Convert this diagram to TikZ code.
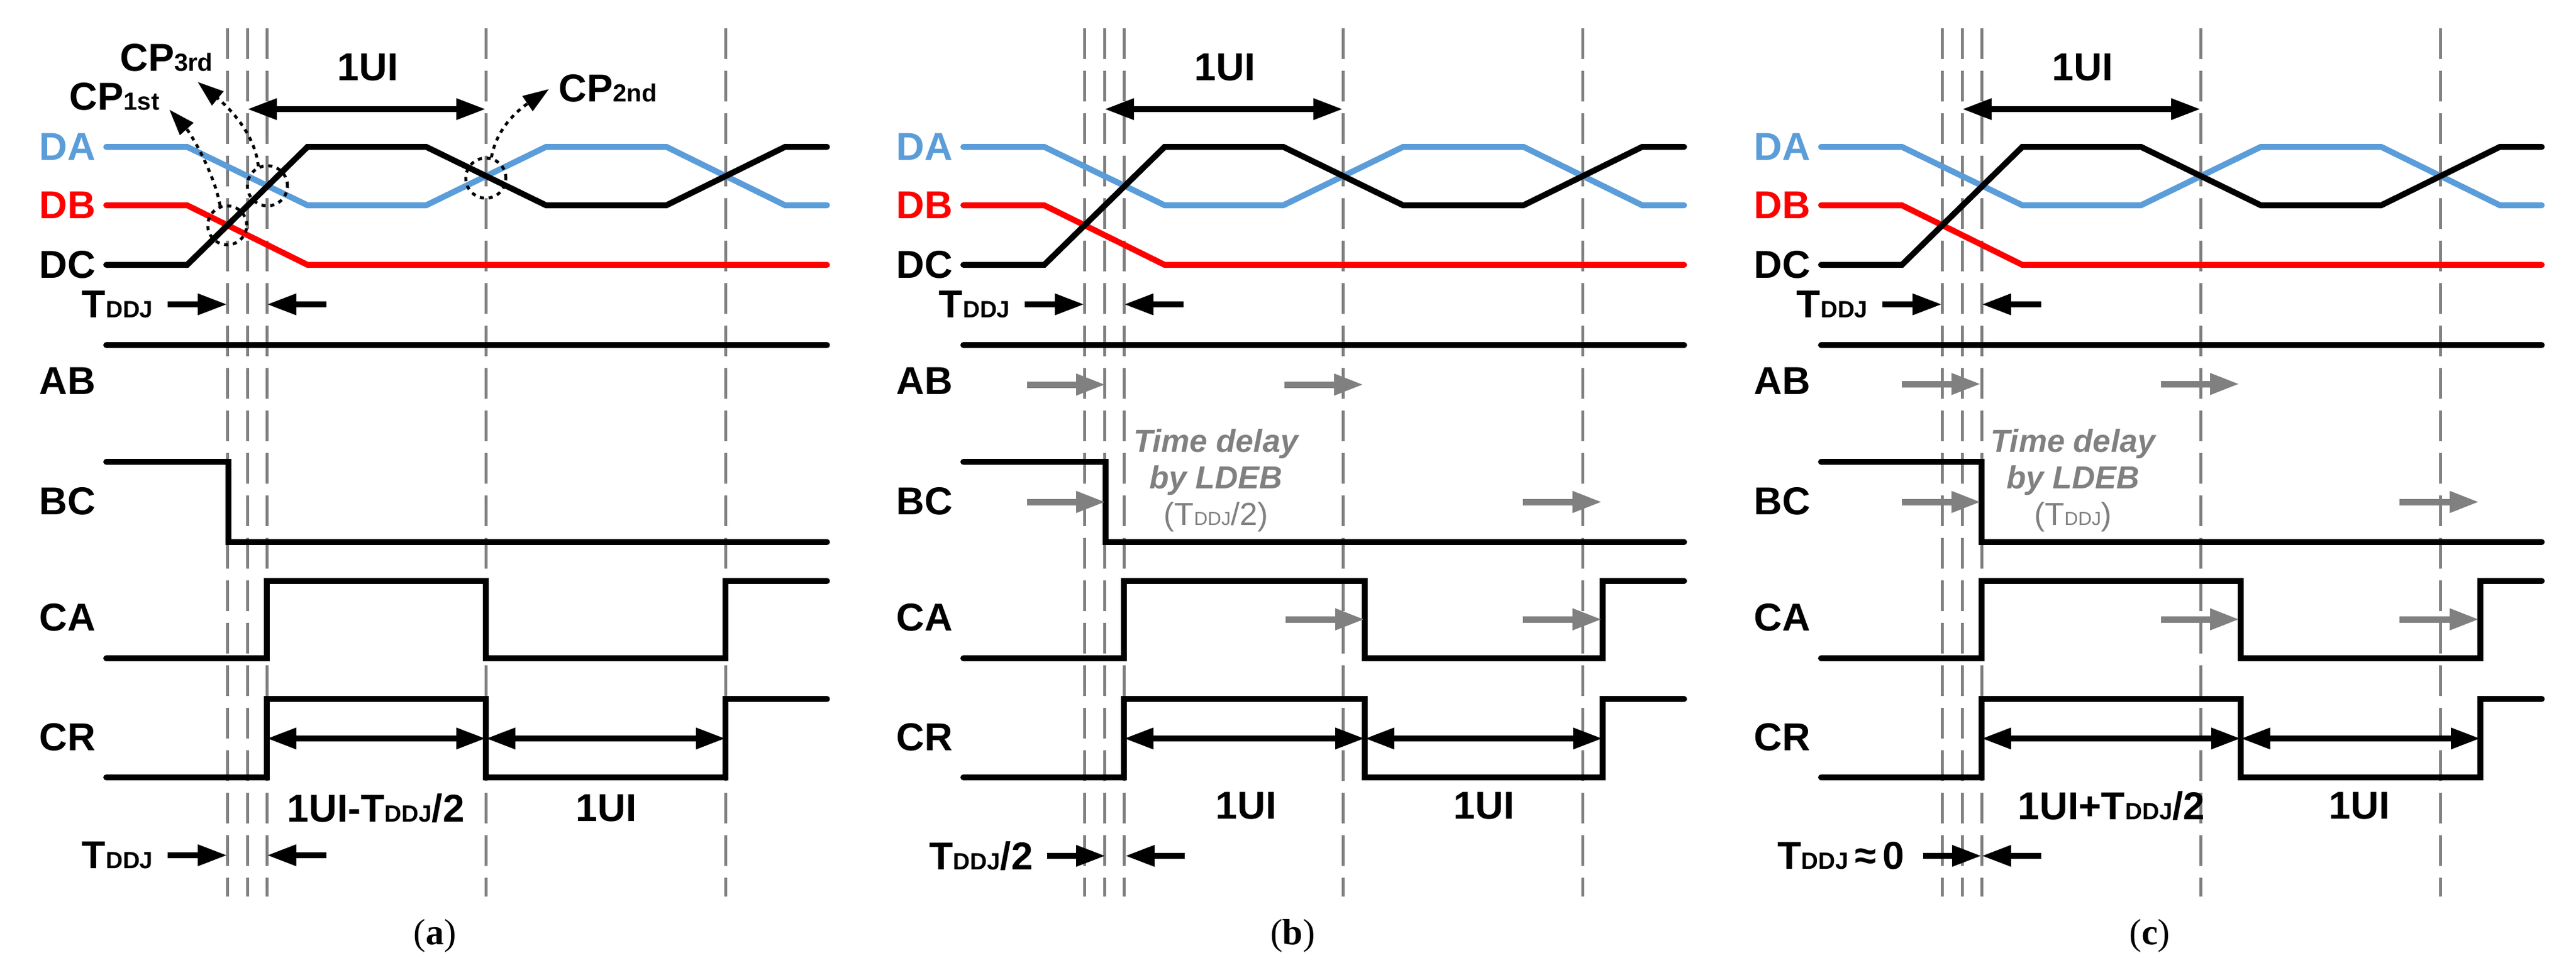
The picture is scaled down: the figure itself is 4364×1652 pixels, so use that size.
\documentclass[tikz,border=0pt]{standalone}
\usepackage{fontspec}
\setmainfont{Liberation Sans}
\newfontfamily\capfont{Liberation Serif}
\usetikzlibrary{arrows.meta}
\definecolor{sigblue}{RGB}{91,157,217}
\definecolor{sigred}{RGB}{255,0,0}
\definecolor{dlgray}{RGB}{128,128,128}
% T with DDJ index, large and small
\newcommand{\Td}{T{\fontsize{40}{40}\selectfont DDJ}}
\newcommand{\Tds}{T{\fontsize{32}{32}\selectfont DDJ}}
\newcommand{\CPx}[1]{CP{\fontsize{42}{42}\selectfont #1}}

\tikzset{
  x=1pt, y=-1pt,
  sig/.style={line width=10pt, line cap=round, line join=miter},
  vgrid/.style={dlgray, line width=5pt, dash pattern=on 52pt off 20pt},
  lbl/.style={font=\fontsize{66}{66}\selectfont\bfseries, anchor=east, inner sep=0pt},
  txt/.style={font=\fontsize{66}{66}\selectfont\bfseries, inner sep=0pt},
  dim/.style={line width=10pt, {Triangle[length=50pt,width=34pt]}-{Triangle[length=50pt,width=34pt]}},
  half/.style={line width=10pt, -{Triangle[length=50pt,width=34pt]}},
  delay/.style={dlgray, line width=11pt, -{Triangle[length=50pt,width=34pt]}},
  note/.style={dlgray, align=center, inner sep=0pt,
    font=\fontsize{54}{62}\selectfont\bfseries\itshape},
  capt/.style={font=\capfont\fontsize{62}{62}\selectfont, inner sep=0pt},
  dots/.style={line width=5pt, dash pattern=on 7pt off 8pt},
  cpl/.style={dots, -{Triangle[length=44pt,width=30pt]}},
}

% common part of every panel: #1 = name prefix
\newcommand{\basepanel}[1]{%
  \foreach \gx [count=\i] in {385,419,452,823,1229} {
    \coordinate (#1t\i) at (\gx,48);
    \coordinate (#1b\i) at (\gx,1520);
    \draw[vgrid] (#1t\i) -- (#1b\i);
  }
  \draw[sig, sigblue] (180,249) -- (317,249) -- (521,348) -- (722,348)
    -- (925,249) -- (1129,249) -- (1330,348) -- (1401,348);
  \draw[sig, sigred] (180,348) -- (317,348) -- (521,449) -- (1401,449);
  \draw[sig] (180,449) -- (317,449) -- (521,249) -- (722,249)
    -- (925,348) -- (1129,348) -- (1330,249) -- (1401,249);
  \draw[sig] (180,585) -- (1401,585);
  \node[lbl, sigblue] (#1DA) at (162,249) {DA};
  \node[lbl, sigred] (#1DB) at (162,348) {DB};
  \node[lbl] (#1DC) at (162,449) {DC};
  \node[lbl] (#1AB) at (162,646) {AB};
  \node[lbl] (#1BC) at (162,850) {BC};
  \node[lbl] (#1CA) at (162,1047) {CA};
  \node[lbl] (#1CR) at (162,1250) {CR};
  % 1UI at the top
  \coordinate (#1ua) at (419,185);
  \coordinate (#1ub) at (823,185);
  \draw[dim] (#1ua) -- (#1ub);
  \node[txt] (#1ui) at (623,114) {1UI};
  % TDDJ between the crossings
  \node[txt] (#1tj) at (199,516) {\Td};
  \coordinate (#1ja) at (284,516);
  \coordinate (#1jb) at (385,516);
  \coordinate (#1jc) at (553,516);
  \coordinate (#1jd) at (452,516);
  \draw[half] (#1ja) -- (#1jb);
  \draw[half] (#1jc) -- (#1jd);
}

\begin{document}
\begin{tikzpicture}
\useasboundingbox (0,0) rectangle (4364,1652);

% ---------------- (a)
\begin{scope}
  \basepanel{a}
  \draw[sig] (180,783) -- (387,783) -- (387,919) -- (1401,919);
  \draw[sig] (180,1116) -- (452,1116) -- (452,985) -- (823,985)
    -- (823,1116) -- (1229,1116) -- (1229,985) -- (1401,985);
  \draw[sig] (180,1318) -- (452,1318) -- (452,1185) -- (823,1185)
    -- (823,1318) -- (1229,1318) -- (1229,1185) -- (1401,1185);
  \coordinate (ar1) at (452,1252);
  \coordinate (ar2) at (823,1252);
  \coordinate (ar3) at (1229,1252);
  \draw[dim] (ar1) -- (ar2);
  \draw[dim] (ar2) -- (ar3);
  \node[txt] (al1) at (637,1370) {1UI-\Td/2};
  \node[txt] (al2) at (1027,1370) {1UI};
  \node[txt] (abt) at (199,1450) {\Td};
  \coordinate (ab1) at (284,1450);
  \coordinate (ab2) at (385,1450);
  \coordinate (ab3) at (553,1450);
  \coordinate (ab4) at (452,1450);
  \draw[half] (ab1) -- (ab2);
  \draw[half] (ab3) -- (ab4);
  % crossing points
  \node[circle, draw, dots, minimum size=66pt, inner sep=0pt] (cp1) at (385,382) {};
  \node[circle, draw, dots, minimum size=68pt, inner sep=0pt] (cp3) at (453,315) {};
  \node[circle, draw, dots, minimum size=68pt, inner sep=0pt] (cp2) at (823,302) {};
  \coordinate (cp1e) at (287,186);
  \coordinate (cp3e) at (335,139);
  \coordinate (cp2e) at (930,151);
  \draw[cpl] (cp1.110) .. controls (362,290) and (322,225) .. (cp1e);
  \draw[cpl] (cp3.115) .. controls (432,225) and (385,180) .. (cp3e);
  \draw[cpl] (cp2.75) .. controls (842,215) and (880,185) .. (cp2e);
  \node[txt] (cpt3) at (282,98) {\CPx{3rd}};
  \node[txt] (cpt1) at (194,164) {\CPx{1st}};
  \node[txt] (cpt2) at (1030,150) {\CPx{2nd}};
  \node[capt] (capa) at (737,1587) {(\textbf{a})};
\end{scope}

% ---------------- (b)
\begin{scope}[xshift=1452pt]
  \basepanel{b}
  \draw[sig] (180,783) -- (421,783) -- (421,919) -- (1401,919);
  \draw[sig] (180,1116) -- (452,1116) -- (452,985) -- (860,985)
    -- (860,1116) -- (1263,1116) -- (1263,985) -- (1401,985);
  \draw[sig] (180,1318) -- (452,1318) -- (452,1185) -- (860,1185)
    -- (860,1318) -- (1263,1318) -- (1263,1185) -- (1401,1185);
  \coordinate (br1) at (452,1252);
  \coordinate (br2) at (860,1252);
  \coordinate (br3) at (1263,1252);
  \draw[dim] (br1) -- (br2);
  \draw[dim] (br2) -- (br3);
  \node[txt] (bl1) at (659,1366) {1UI};
  \node[txt] (bl2) at (1062,1366) {1UI};
  \node[txt] (bbt) at (210,1451) {\Td/2};
  \coordinate (bb1) at (322,1451);
  \coordinate (bb2) at (421,1451);
  \coordinate (bb3) at (555,1451);
  \coordinate (bb4) at (454,1451);
  \draw[half] (bb1) -- (bb2);
  \draw[half] (bb3) -- (bb4);
  % delay of the edges
  \foreach \sa/\sb/\sy [count=\k] in {288/421/652, 724/858/652, 288/421/851,
      1128/1262/851, 726/860/1050, 1128/1262/1050} {
    \coordinate (bs\k a) at (\sa,\sy);
    \coordinate (bs\k b) at (\sb,\sy);
    \draw[delay] (bs\k a) -- (bs\k b);
  }
  \node[note] (bnote) at (608,815)
    {Time delay\\by LDEB\\{\mdseries\upshape(\Tds/2)}};
  \node[capt] (capb) at (738,1587) {(\textbf{b})};
\end{scope}

% ---------------- (c)
\begin{scope}[xshift=2905pt]
  \basepanel{c}
  \draw[sig] (180,783) -- (452,783) -- (452,919) -- (1401,919);
  \draw[sig] (180,1116) -- (452,1116) -- (452,985) -- (891,985)
    -- (891,1116) -- (1297,1116) -- (1297,985) -- (1401,985);
  \draw[sig] (180,1318) -- (452,1318) -- (452,1185) -- (891,1185)
    -- (891,1318) -- (1297,1318) -- (1297,1185) -- (1401,1185);
  \coordinate (cr1) at (452,1252);
  \coordinate (cr2) at (891,1252);
  \coordinate (cr3) at (1297,1252);
  \draw[dim] (cr1) -- (cr2);
  \draw[dim] (cr2) -- (cr3);
  \node[txt] (cl1) at (672,1366) {1UI+\Td/2};
  \node[txt] (cl2) at (1092,1366) {1UI};
  \node[txt] (cbt) at (214,1451) {\Td\,≈\,0};
  \coordinate (cb1) at (353,1451);
  \coordinate (cb2) at (452,1451);
  \coordinate (cb3) at (553,1451);
  \coordinate (cb4) at (452,1451);
  \draw[half] (cb1) -- (cb2);
  \draw[half] (cb3) -- (cb4);
  \foreach \sa/\sb/\sy [count=\k] in {317/451/651, 756/889/651, 317/451/851,
      1160/1295/851, 756/889/1050, 1160/1295/1050} {
    \coordinate (cs\k a) at (\sa,\sy);
    \coordinate (cs\k b) at (\sb,\sy);
    \draw[delay] (cs\k a) -- (cs\k b);
  }
  \node[note] (cnote) at (607,815)
    {Time delay\\by LDEB\\{\mdseries\upshape(\Tds)}};
  \node[capt] (capc) at (737,1587) {(\textbf{c})};
\end{scope}
\end{tikzpicture}
\end{document}
